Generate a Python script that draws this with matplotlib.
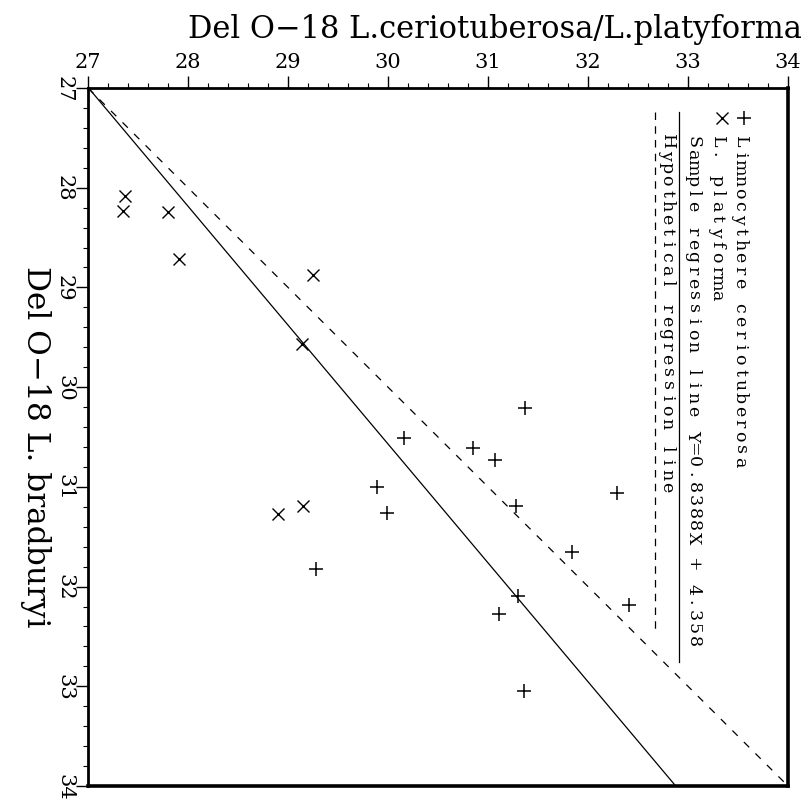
import matplotlib
matplotlib.use("Agg")
import matplotlib.pyplot as plt
import matplotlib.transforms as mtransforms
from matplotlib.ticker import MultipleLocator
import numpy as np

# Delta O-18 values: L. bradburyi (vertical) vs co-occurring species (horizontal)
cerio_bradburyi = [30.21, 30.51, 30.61, 30.73, 31.00, 31.06, 31.26,
                   31.19, 31.65, 31.82, 32.09, 32.18, 32.28, 33.05]
cerio_values = [31.37, 30.16, 30.85, 31.07, 29.89, 32.29, 29.99,
                31.28, 31.84, 29.28, 31.30, 32.41, 31.11, 31.36]

platy_bradburyi = [28.08, 28.23, 28.24, 28.71, 28.88, 29.57, 31.19, 31.27]
platy_values = [27.37, 27.35, 27.80, 27.91, 29.25, 29.14, 29.15, 28.90]

# Regression Y = slope * X + intercept (Y: ceriotuberosa/platyforma, X: bradburyi)
slope = 0.8388
intercept = 4.358

axis_min, axis_max = 27, 34
tick_values = [27, 28, 29, 30, 31, 32, 33, 34]

legend_labels = ["Limnocythere ceriotuberosa", "L. platyforma",
                 "Sample regression line Y=0.8388X + 4.358",
                 "Hypothetical regression line"]

serif = "DejaVu Serif"

fig = plt.figure(figsize=(8.08, 8.03), dpi=100)
ax = fig.add_axes([88 / 808, 1 - 787 / 803, 700 / 808, 698 / 803])

ax.set_xlim(axis_min, axis_max)
ax.set_ylim(axis_max, axis_min)

# Horizontal scale on top, vertical scale on the left reading downward
ax.xaxis.tick_top()
ax.xaxis.set_label_position("top")
ax.set_xticks(tick_values)
ax.set_yticks(tick_values)
ax.xaxis.set_minor_locator(MultipleLocator(0.2))
ax.yaxis.set_minor_locator(MultipleLocator(0.2))
ax.tick_params(which="major", direction="out", length=8.6, width=1.0, color="black")
ax.tick_params(which="minor", direction="out", length=3.5, width=0.8, color="black")
ax.tick_params(axis="x", which="both", top=True, bottom=False)
ax.tick_params(axis="y", which="both", left=True, right=False)

ax.set_xticklabels([str(t) for t in tick_values], fontfamily=serif, fontsize=15)
ax.set_yticklabels([str(t) for t in tick_values], fontfamily=serif, fontsize=15,
                   rotation=-90, va="center")
ax.tick_params(axis="x", pad=4)
ax.tick_params(axis="y", pad=1.5)

ax.set_xlabel("Del O\u221218 L.ceriotuberosa/L.platyforma", fontfamily=serif,
              fontsize=22)
ax.xaxis.set_label_coords(0.581, 1.073)
ax.set_ylabel("Del O\u221218 L. bradburyi", fontfamily=serif, fontsize=22.5,
              rotation=-90, va="center")
ax.yaxis.set_label_coords(-0.0757, 0.487)

for side in ["top", "left"]:
    ax.spines[side].set_linewidth(2.0)
for side in ["bottom", "right"]:
    ax.spines[side].set_linewidth(2.6)

# Regression lines
xb = np.array([axis_min, axis_max], dtype=float)
ax.plot(slope * xb + intercept, xb, color="black", lw=0.9)
ax.plot(xb, xb, color="black", lw=0.9, dashes=(6, 7))

# Data points
ax.plot(cerio_values, cerio_bradburyi, linestyle="none", marker="+",
        markersize=9.5, markeredgewidth=1.1, color="black")
ax.plot(platy_values, platy_bradburyi, linestyle="none", marker="x",
        markersize=9.0, markeredgewidth=1.0, color="black")


def spaced_text(x, y, s, pitch_px, size):
    """Write s downward one character at a time on a fixed pitch."""
    for i, ch in enumerate(s):
        shift = mtransforms.ScaledTranslation(0, -i * pitch_px / fig.dpi,
                                              fig.dpi_scale_trans)
        ax.text(x, y, ch, transform=ax.transData + shift, rotation=-90,
                rotation_mode="anchor", ha="center", va="center",
                fontfamily=serif, fontsize=size, color="black")


# Legend, written along the rotated reading direction
pitch = 12.8
leg_size = 12.5
text_start = 27.53
ax.plot([33.56], [27.30], marker="+", markersize=9.5, markeredgewidth=1.1,
        color="black", linestyle="none")
spaced_text(33.52, text_start, legend_labels[0], pitch, leg_size)
ax.plot([33.34], [27.30], marker="x", markersize=9.0, markeredgewidth=1.0,
        color="black", linestyle="none")
spaced_text(33.29, text_start, legend_labels[1], pitch, leg_size)
spaced_text(33.05, text_start, legend_labels[2], pitch, leg_size)
ax.plot([32.91, 32.91], [27.24, 32.76], color="black", lw=0.9)
spaced_text(32.79, text_start, legend_labels[3], pitch, leg_size)
ax.plot([32.67, 32.67], [27.24, 32.45], color="black", lw=0.9, dashes=(6, 5))

fig.savefig("out.png", dpi=100)
